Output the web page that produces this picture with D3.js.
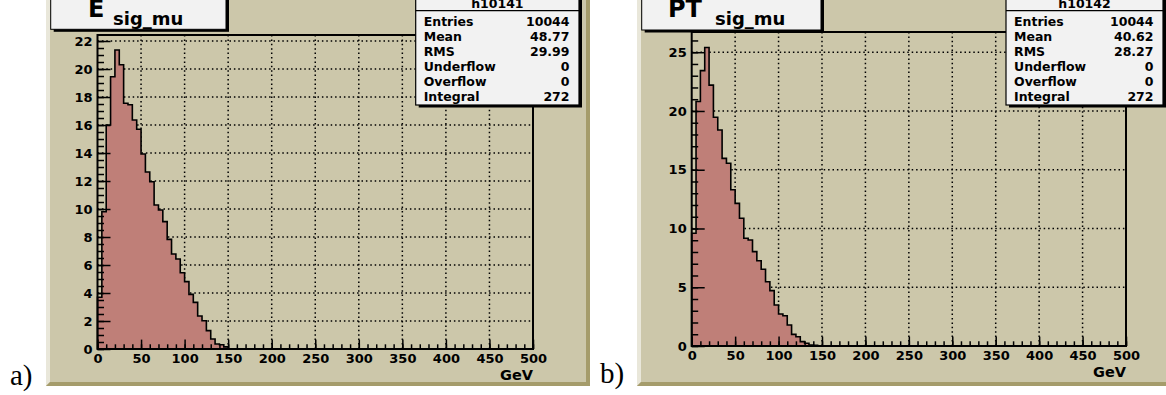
<!DOCTYPE html>
<html>
<head>
<meta charset="utf-8">
<script src="https://cdn.jsdelivr.net/npm/d3@7"></script>
<style>
body { margin: 0; background: #fff; }
svg text { font-family: "DejaVu Sans", sans-serif; font-weight: bold; }
</style>
</head>
<body>
<svg id="chart"></svg>
<script>
var svg_width = 1166, svg_height = 395;

// histogram contents, 5 GeV bins starting at 0
var binWidth = 5;
var eSigMu = [3.7, 9.8, 16.0, 19.45, 21.36, 20.3, 17.55, 17.45, 16.36, 15.7,
	13.93, 12.64, 11.95, 10.29, 9.93, 9.1, 7.83, 6.79, 6.43, 5.45,
	4.81, 3.9, 3.33, 2.36, 2.02, 1.31, 0.71, 0.36, 0.3, 0.15];
var ptSigMu = [9.6, 20.8, 23.43, 25.4, 22.2, 19.46, 18.38, 15.97, 15.55, 13.3,
	12.14, 10.87, 9.17, 9.02, 8.03, 7.26, 6.53, 5.47, 4.71, 3.49,
	2.72, 2.58, 1.79, 0.99, 0.79, 0.37, 0.23, 0.09, 0.05];

var xTicks = [0, 50, 100, 150, 200, 250, 300, 350, 400, 450, 500];
var yTicksE = [0, 2, 4, 6, 8, 10, 12, 14, 16, 18, 20, 22];
var yTicksPt = [0, 5, 10, 15, 20, 25];

var statLabels = ["Entries", "Mean", "RMS", "Underflow", "Overflow", "Integral"];
var statsE = ["10044", "48.77", "29.99", "0", "0", "272"];
var statsPt = ["10044", "40.62", "28.27", "0", "0", "272"];

var padFill = "#ccc7aa", padLight = "#e9e7da", padDark = "#a59c6b";
var histFill = "#bf7f78", boxFill = "#f2f2f2";

var svg = d3.select("#chart")
	.attr("width", svg_width)
	.attr("height", svg_height);

var panels = [
	{ label: "a)", labelX: 10, labelY: 385,
		pad: [46, 590], plot: [97.5, 533, 35, 349],
		data: eSigMu, ymax: 22.43, yTicks: yTicksE, yMinor: 0.5,
		title: "E", titleBox: [50.7, 226, 29.3], titleX: 88, subX: 113,
		statName: "h10141", stats: statsE, statBox: [415.7, 579, 105] },
	{ label: "b)", labelX: 600, labelY: 383,
		pad: [637, 1172], plot: [691.7, 1126, 32, 346],
		data: ptSigMu, ymax: 26.72, yTicks: yTicksPt, yMinor: 1,
		title: "PT", titleX: 668, subX: 715, titleBox: [641.7, 821, 30],
		statName: "h10142", stats: statsPt, statBox: [1006, 1163, 105] }
];

panels.forEach(drawPanel);

function drawPanel(p) {
	var g = svg.append("g");
	var x0 = p.pad[0], x1 = p.pad[1], top = -10, bot = 386, b = 4;

	// pad with bevel
	g.append("rect")
		.attr("x", x0).attr("y", top)
		.attr("width", x1 - x0).attr("height", bot - top)
		.attr("fill", padFill);
	g.append("polygon")
		.attr("points", [[x0, bot], [x0, top], [x1, top], [x1 - b, top + b], [x0 + b, top + b], [x0 + b, bot - b]].join(" "))
		.attr("fill", padLight);
	g.append("polygon")
		.attr("points", [[x0, bot], [x1, bot], [x1, top], [x1 - b, top + b], [x1 - b, bot - b], [x0 + b, bot - b]].join(" "))
		.attr("fill", padDark);

	var px0 = p.plot[0], px1 = p.plot[1], py0 = p.plot[2], py1 = p.plot[3];
	var x = d3.scaleLinear().domain([0, 500]).range([px0, px1]);
	var y = d3.scaleLinear().domain([0, p.ymax]).range([py1, py0]);

	// dotted grid
	g.append("g").selectAll("line")
		.data(xTicks.filter(function (t) { return t > 0 && t < 500; }))
		.enter().append("line")
		.attr("x1", function (d) { return x(d); })
		.attr("x2", function (d) { return x(d); })
		.attr("y1", py0).attr("y2", py1)
		.attr("stroke", "#000")
		.attr("stroke-width", 1.5)
		.attr("stroke-dasharray", "1.5,2.9");
	g.append("g").selectAll("line")
		.data(p.yTicks.filter(function (t) { return t > 0; }))
		.enter().append("line")
		.attr("y1", function (d) { return y(d); })
		.attr("y2", function (d) { return y(d); })
		.attr("x1", px0).attr("x2", px1)
		.attr("stroke", "#000")
		.attr("stroke-width", 1.5)
		.attr("stroke-dasharray", "1.5,2.9");

	// histogram as steps
	var pts = [[0, 0]];
	p.data.forEach(function (v, i) {
		pts.push([i * binWidth, v]);
		pts.push([(i + 1) * binWidth, v]);
	});
	pts.push([p.data.length * binWidth, 0]);

	var line = d3.line()
		.x(function (d) { return x(d[0]); })
		.y(function (d) { return y(d[1]); });

	g.append("path")
		.datum(pts)
		.attr("d", line)
		.attr("fill", histFill)
		.attr("stroke", "#000")
		.attr("stroke-width", 1.6)
		.attr("stroke-linejoin", "miter");

	// axes, ticks pointing inward
	var xMinor = g.append("g")
		.attr("transform", "translate(0," + py1 + ")")
		.call(d3.axisBottom(x).tickValues(d3.range(0, 501, 10)).tickSize(-4.7).tickFormat(""));
	var xMajor = g.append("g")
		.attr("transform", "translate(0," + py1 + ")")
		.call(d3.axisBottom(x).tickValues(xTicks).tickSize(-9.4).tickPadding(4.5).tickFormat(d3.format("d")));
	var yMinor = g.append("g")
		.attr("transform", "translate(" + px0 + ",0)")
		.call(d3.axisLeft(y).tickValues(d3.range(0, p.ymax, p.yMinor)).tickSize(-6.5).tickFormat(""));
	var yMajor = g.append("g")
		.attr("transform", "translate(" + px0 + ",0)")
		.call(d3.axisLeft(y).tickValues(p.yTicks).tickSize(-13).tickPadding(5).tickFormat(d3.format("d")));

	[xMinor, xMajor, yMinor, yMajor].forEach(function (a) {
		a.select(".domain").remove();
		a.selectAll("line").attr("stroke", "#000").attr("stroke-width", 1.5);
		a.selectAll("text")
			.attr("fill", "#000")
			.style("font-family", "'DejaVu Sans', sans-serif")
			.style("font-weight", "bold")
			.style("font-size", "13px");
	});

	// frame
	g.append("rect")
		.attr("x", px0).attr("y", py0)
		.attr("width", px1 - px0).attr("height", py1 - py0)
		.attr("fill", "none")
		.attr("stroke", "#000")
		.attr("stroke-width", 2);

	g.append("text")
		.attr("x", px1).attr("y", py1 + 31)
		.attr("text-anchor", "end")
		.style("font-size", "14.5px")
		.text("GeV");

	// title box
	var tb = p.titleBox;
	g.append("rect")
		.attr("x", tb[0] + 3).attr("y", -10)
		.attr("width", tb[1] - tb[0]).attr("height", tb[2] + 12.5)
		.attr("fill", "#000");
	g.append("rect")
		.attr("x", tb[0]).attr("y", -10)
		.attr("width", tb[1] - tb[0]).attr("height", tb[2] + 10)
		.attr("fill", boxFill)
		.attr("stroke", "#000")
		.attr("stroke-width", 1);
	g.append("text")
		.attr("x", p.titleX).attr("y", 17)
		.style("font-size", "24px")
		.text(p.title);
	g.append("text")
		.attr("x", p.subX).attr("y", 25)
		.style("font-size", "18px")
		.text("sig_mu");

	// stats box
	var sb = p.statBox;
	g.append("rect")
		.attr("x", sb[0] + 3).attr("y", -10)
		.attr("width", sb[1] - sb[0]).attr("height", sb[2] + 12.5)
		.attr("fill", "#000");
	g.append("rect")
		.attr("x", sb[0]).attr("y", -10)
		.attr("width", sb[1] - sb[0]).attr("height", sb[2] + 10)
		.attr("fill", boxFill)
		.attr("stroke", "#000")
		.attr("stroke-width", 1.2);
	g.append("line")
		.attr("x1", sb[0]).attr("x2", sb[1])
		.attr("y1", 10.7).attr("y2", 10.7)
		.attr("stroke", "#000")
		.attr("stroke-width", 1.2);
	g.append("text")
		.attr("x", (sb[0] + sb[1]) / 2).attr("y", 7.5)
		.attr("text-anchor", "middle")
		.style("font-size", "12.5px")
		.text(p.statName);
	var rows = g.append("g").selectAll("g")
		.data(statLabels)
		.enter().append("g");
	rows.append("text")
		.attr("x", sb[0] + 8)
		.attr("y", function (d, i) { return 25.5 + i * 15; })
		.style("font-size", "12.5px")
		.text(function (d) { return d; });
	rows.append("text")
		.attr("x", sb[1] - 9.5)
		.attr("y", function (d, i) { return 25.5 + i * 15; })
		.attr("text-anchor", "end")
		.style("font-size", "12.5px")
		.text(function (d, i) { return p.stats[i]; });

	// panel label
	svg.append("text")
		.attr("x", p.labelX).attr("y", p.labelY)
		.style("font-family", "'Liberation Serif', serif")
		.style("font-weight", "normal")
		.style("font-size", "29px")
		.text(p.label);
}
</script>
</body>
</html>
